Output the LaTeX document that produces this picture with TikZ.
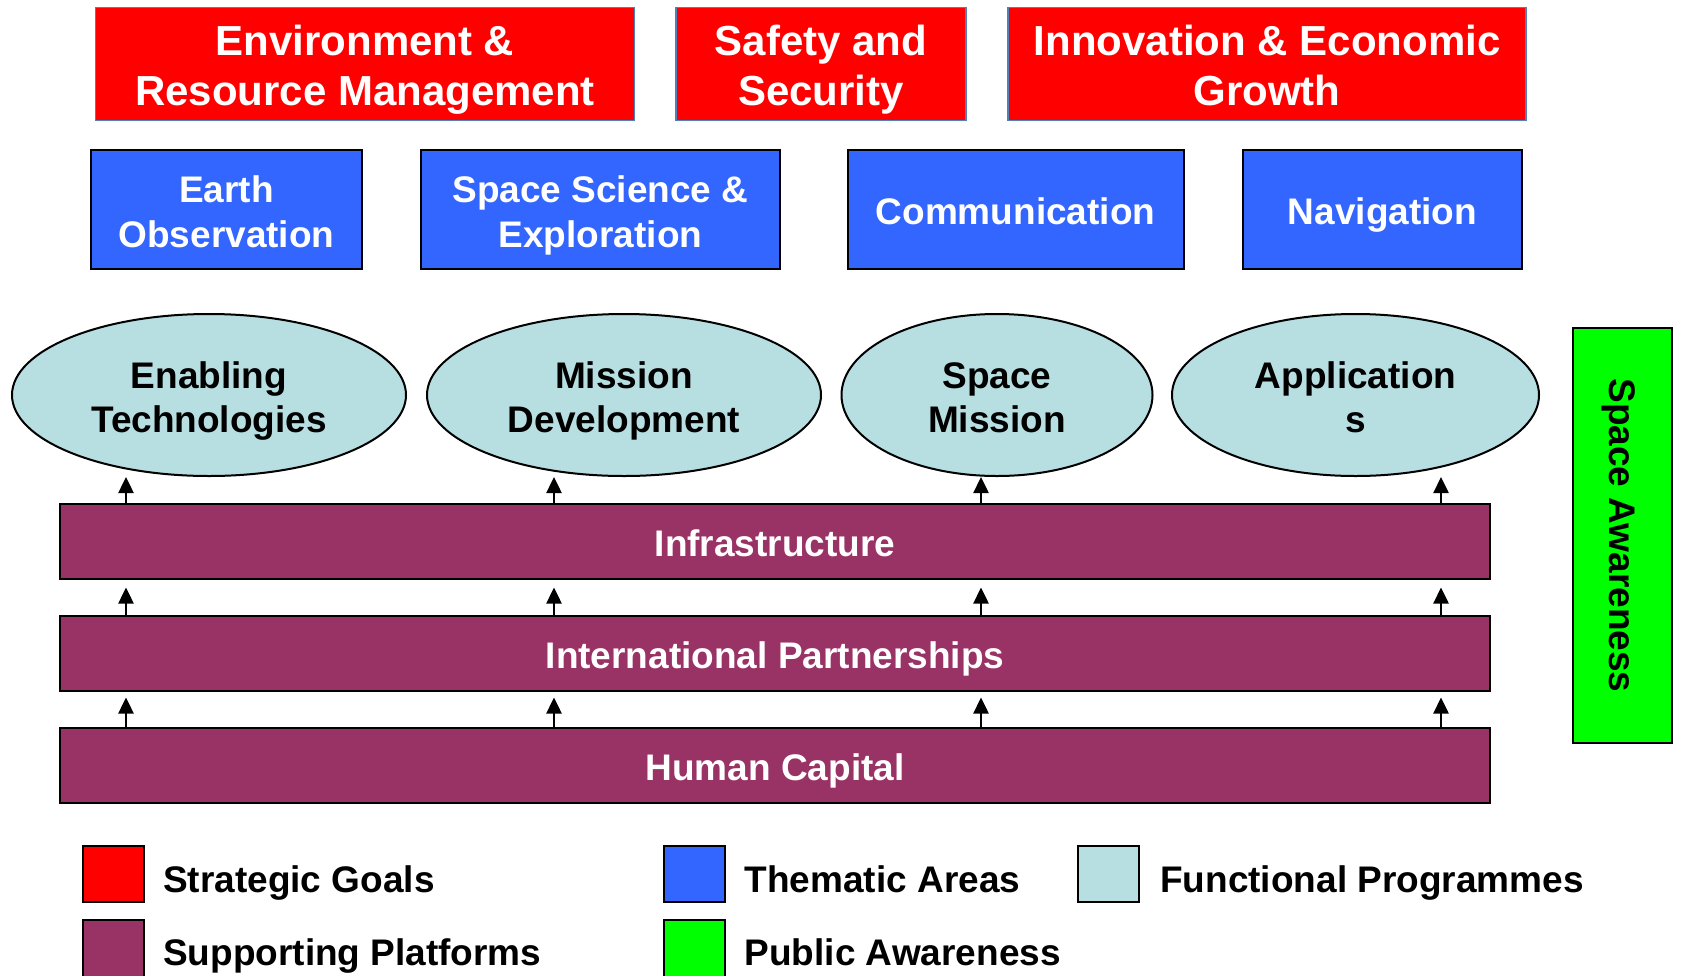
\documentclass[tikz,border=0pt]{standalone}
\usepackage{fontspec}
\setmainfont{Liberation Sans}
\usetikzlibrary{shapes.geometric,arrows.meta,calc}

\definecolor{goalred}{RGB}{255,0,0}
\definecolor{goalline}{RGB}{79,129,189}
\definecolor{areablue}{RGB}{51,102,255}
\definecolor{progteal}{RGB}{183,222,225}
\definecolor{platpurple}{RGB}{153,51,102}
\definecolor{awaregreen}{RGB}{0,255,0}

% first-line strut, keeps the text block centred on its capitals
\newcommand{\capstrut}[1]{\rule{0pt}{#1}}

\begin{document}
\begin{tikzpicture}[x=1pt, y=-1pt,
    goal/.style={rectangle, draw=goalline, line width=1.5pt, fill=goalred, text=white, align=center,
        minimum height=113pt, inner sep=0pt, text depth=0pt, font=\fontsize{42}{50}\selectfont\bfseries},
    area/.style={rectangle, draw=black, line width=2pt, fill=areablue, text=white, align=center,
        minimum height=119pt, inner sep=0pt, text depth=0pt, font=\fontsize{37}{45}\selectfont\bfseries},
    prog/.style={ellipse, draw=black, line width=2pt, fill=progteal, align=center,
        minimum height=162pt, inner sep=0pt, text depth=0pt, font=\fontsize{37}{44}\selectfont\bfseries},
    plat/.style={rectangle, draw=black, line width=2pt, fill=platpurple, text=white,
        minimum width=1430pt, minimum height=75pt, inner sep=0pt, text depth=0pt, text height=31pt,
        font=\fontsize{37}{44}\selectfont\bfseries},
    key/.style={rectangle, draw=black, line width=2pt, anchor=north west,
        minimum width=61pt, minimum height=56pt, inner sep=0pt},
    keytext/.style={anchor=base west, inner sep=0pt, font=\fontsize{37}{44}\selectfont\bfseries},
    arr/.style={line width=2.5pt, -{Triangle[width=15pt,length=16pt]}}]
    \useasboundingbox (0,0) rectangle (1681,975);

    % strategic goals
    \draw (365,64) node[goal, minimum width=539pt](g1){\capstrut{33pt}Environment \&\\Resource Management}
       (821,64) node[goal, minimum width=290pt](g2){\capstrut{33pt}Safety and\\Security}
       (1267,64) node[goal, minimum width=518pt](g3){\capstrut{33pt}Innovation \& Economic\\Growth};

    % thematic areas
    \draw (226.5,209) node[area, minimum width=271pt](a1){\capstrut{31pt}Earth\\Observation}
       (600.5,209) node[area, minimum width=359pt](a2){\capstrut{31pt}Space Science \&\\Exploration}
       (1015.5,209) node[area, minimum width=336pt](a3){\capstrut{31pt}Communication}
       (1382.5,209) node[area, minimum width=279pt](a4){\capstrut{31pt}Navigation};

    % functional programmes
    \draw (209,395) node[prog, minimum width=394pt](e1){\capstrut{31pt}Enabling\\Technologies}
       (624,395) node[prog, minimum width=394pt](e2){\capstrut{31pt}Mission\\Development}
       (997,395) node[prog, minimum width=311pt](e3){\capstrut{31pt}Space\\Mission}
       (1355.5,395) node[prog, minimum width=367pt](e4){\capstrut{31pt}Application\\s};

    % supporting platforms
    \draw (775,541) node[plat](infra){Infrastructure}
       (775,653) node[plat](intl){International Partnerships}
       (775,765) node[plat](human){Human Capital};

    % public awareness
    \draw (1622.5,535.5) node[rectangle, draw=black, line width=2pt, fill=awaregreen, rotate=-90,
        minimum width=415pt, minimum height=99pt, inner sep=0pt, text depth=0pt,
        font=\fontsize{37}{44}\selectfont\bfseries](aware){Space Awareness};

    \coordinate (c1) at (126,0);
    \coordinate (c2) at (554,0);
    \coordinate (c3) at (981,0);
    \coordinate (c4) at (1441,0);

    \draw[arr] (infra.north -| c1) -- (e1.south -| c1);
    \draw[arr] (infra.north -| c2) -- (e2.south -| c2);
    \draw[arr] (infra.north -| c3) -- (e3.south -| c3);
    \draw[arr] (infra.north -| c4) -- (e4.south -| c4);
    \draw[arr] (intl.north -| c1) -- ($(infra.south -| c1)+(0,8)$);
    \draw[arr] (intl.north -| c2) -- ($(infra.south -| c2)+(0,8)$);
    \draw[arr] (intl.north -| c3) -- ($(infra.south -| c3)+(0,8)$);
    \draw[arr] (intl.north -| c4) -- ($(infra.south -| c4)+(0,8)$);
    \draw[arr] (human.north -| c1) -- ($(intl.south -| c1)+(0,6)$);
    \draw[arr] (human.north -| c2) -- ($(intl.south -| c2)+(0,6)$);
    \draw[arr] (human.north -| c3) -- ($(intl.south -| c3)+(0,6)$);
    \draw[arr] (human.north -| c4) -- ($(intl.south -| c4)+(0,6)$);

    % legend
    \draw (82,845) node[key, fill=goalred](k1){}
       (163,892) node[keytext](k1t){Strategic Goals}
       (662.5,845) node[key, fill=areablue](k2){}
       (744.5,892) node[keytext](k2t){Thematic Areas}
       (1077,845) node[key, fill=progteal](k3){}
       (1160,892) node[keytext](k3t){Functional Programmes}
       (82,919) node[key, fill=platpurple, minimum height=60pt](k4){}
       (163,965) node[keytext](k4t){Supporting Platforms}
       (662.5,919) node[key, fill=awaregreen, minimum height=60pt](k5){}
       (744.5,965) node[keytext](k5t){Public Awareness};
\end{tikzpicture}
\end{document}
